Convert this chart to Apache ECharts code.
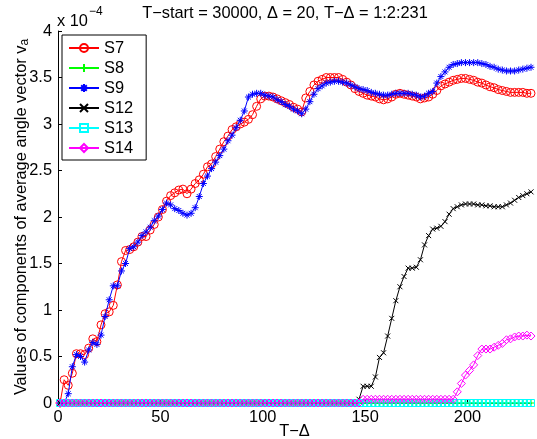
<!DOCTYPE html>
<html>
<head>
<meta charset="utf-8">
<script src="https://cdn.jsdelivr.net/npm/echarts@6/dist/echarts.min.js"></script>
<style>
html,body{margin:0;padding:0;background:#fff;}
#chart{width:537px;height:439px;}
</style>
</head>
<body>
<div id="chart"></div>
<script>
// T-Δ = 1:2:231
const tDelta = [
  1,3,5,7,9,11,13,15,17,19,
  21,23,25,27,29,31,33,35,37,39,
  41,43,45,47,49,51,53,55,57,59,
  61,63,65,67,69,71,73,75,77,79,
  81,83,85,87,89,91,93,95,97,99,
  101,103,105,107,109,111,113,115,117,119,
  121,123,125,127,129,131,133,135,137,139,
  141,143,145,147,149,151,153,155,157,159,
  161,163,165,167,169,171,173,175,177,179,
  181,183,185,187,189,191,193,195,197,199,
  201,203,205,207,209,211,213,215,217,219,
  221,223,225,227,229,231
];

// values in units of 1e-4
const s7 = [
  0,0.25,0.19,0.32,0.53,0.53,0.52,0.59,0.69,0.66,
  0.84,0.96,0.98,1.05,1.27,1.52,1.64,1.65,1.68,1.73,
  1.79,1.79,1.86,1.92,2.00,2.08,2.17,2.23,2.26,2.29,
  2.30,2.25,2.30,2.36,2.40,2.46,2.54,2.57,2.65,2.73,
  2.81,2.87,2.94,2.97,3.00,3.02,3.05,3.10,3.19,3.27,
  3.30,3.30,3.29,3.27,3.25,3.23,3.21,3.18,3.16,3.13,
  3.28,3.35,3.42,3.46,3.48,3.50,3.50,3.50,3.50,3.48,
  3.45,3.42,3.38,3.35,3.33,3.31,3.30,3.29,3.27,3.26,
  3.27,3.29,3.32,3.33,3.32,3.31,3.30,3.29,3.27,3.28,
  3.29,3.32,3.36,3.41,3.43,3.45,3.47,3.48,3.49,3.49,
  3.48,3.47,3.45,3.44,3.42,3.40,3.39,3.37,3.36,3.35,
  3.34,3.34,3.34,3.34,3.33,3.33
];
const s8 = [
  0,0,0,0,0,0,0,0,0,0,
  0,0,0,0,0,0,0,0,0,0,
  0,0,0,0,0,0,0,0,0,0,
  0,0,0,0,0,0,0,0,0,0,
  0,0,0,0,0,0,0,0,0,0,
  0,0,0,0,0,0,0,0,0,0,
  0,0,0,0,0,0,0,0,0,0,
  0,0,0,0,0,0,0,0,0,0,
  0,0,0,0,0,0,0,0,0,0,
  0,0,0,0,0,0,0,0,0,0,
  0,0,0,0,0,0,0,0,0,0,
  0,0,0,0,0,0
];
const s9 = [
  0,0,0.10,0.39,0.52,0.50,0.44,0.57,0.65,0.63,
  0.73,0.93,1.11,1.26,1.26,1.42,1.50,1.66,1.68,1.73,
  1.80,1.84,1.89,1.96,2.01,2.08,2.15,2.13,2.09,2.07,
  2.04,2.02,2.04,2.10,2.22,2.36,2.44,2.52,2.59,2.66,
  2.73,2.82,2.88,2.96,3.04,3.14,3.29,3.32,3.33,3.33,
  3.31,3.30,3.29,3.26,3.24,3.21,3.19,3.16,3.14,3.11,
  3.16,3.24,3.32,3.38,3.41,3.44,3.45,3.46,3.46,3.45,
  3.44,3.42,3.40,3.38,3.37,3.36,3.34,3.33,3.32,3.31,
  3.31,3.32,3.33,3.33,3.33,3.33,3.32,3.31,3.29,3.30,
  3.33,3.35,3.44,3.51,3.56,3.61,3.64,3.65,3.66,3.66,
  3.66,3.66,3.66,3.65,3.64,3.62,3.61,3.59,3.58,3.57,
  3.57,3.57,3.58,3.59,3.60,3.61
];
const s12 = [
  0,0,0,0,0,0,0,0,0,0,
  0,0,0,0,0,0,0,0,0,0,
  0,0,0,0,0,0,0,0,0,0,
  0,0,0,0,0,0,0,0,0,0,
  0,0,0,0,0,0,0,0,0,0,
  0,0,0,0,0,0,0,0,0,0,
  0,0,0,0,0,0,0,0,0,0,
  0,0,0,0.04,0.18,0.18,0.18,0.28,0.49,0.54,
  0.72,0.91,1.10,1.25,1.36,1.45,1.45,1.46,1.54,1.70,
  1.80,1.87,1.88,1.90,1.95,2.03,2.09,2.11,2.13,2.14,
  2.14,2.14,2.13,2.13,2.12,2.12,2.11,2.11,2.11,2.13,
  2.15,2.18,2.21,2.23,2.25,2.27
];
const s13 = [
  0,0,0,0,0,0,0,0,0,0,
  0,0,0,0,0,0,0,0,0,0,
  0,0,0,0,0,0,0,0,0,0,
  0,0,0,0,0,0,0,0,0,0,
  0,0,0,0,0,0,0,0,0,0,
  0,0,0,0,0,0,0,0,0,0,
  0,0,0,0,0,0,0,0,0,0,
  0,0,0,0,0,0,0,0,0,0,
  0,0,0,0,0,0,0,0,0,0,
  0,0,0,0,0,0,0,0,0,0,
  0,0,0,0,0,0,0,0,0,0,
  0,0,0,0,0,0
];
const s14 = [
  0,0,0,0,0,0,0,0,0,0,
  0,0,0,0,0,0,0,0,0,0,
  0,0,0,0,0,0,0,0,0,0,
  0,0,0,0,0,0,0,0,0,0,
  0,0,0,0,0,0,0,0,0,0,
  0,0,0,0,0,0,0,0,0,0,
  0,0,0,0,0,0,0,0,0,0,
  0,0,0,0,0.04,0.04,0.04,0.04,0.04,0.04,
  0.04,0.04,0.04,0.04,0.04,0.04,0.04,0.04,0.04,0.04,
  0.04,0.04,0.04,0.04,0.04,0.04,0.04,0.12,0.21,0.30,
  0.35,0.41,0.51,0.58,0.58,0.58,0.60,0.62,0.64,0.68,
  0.69,0.71,0.72,0.72,0.73,0.72
];

const seriesNames = ['S7','S8','S9','S12','S13','S14'];
const xTicks = [0,50,100,150,200];
const yTicks = [0,0.5,1,1.5,2,2.5,3,3.5,4];

const FONT = 'Liberation Sans, Arial, Helvetica, sans-serif';
const FS = 16.4;
const PLUS = 'path://M5,0L5,10M0,5L10,5';
const STAR = 'path://M5,0L5,10M0,5L10,5M1.5,1.5L8.5,8.5M1.5,8.5L8.5,1.5';
const XMARK = 'path://M0,0L10,10M0,10L10,0';

const styles = [
  {color:'#ff0000', symbol:'circle', size:8},
  {color:'#00ff00', symbol:PLUS, size:7},
  {color:'#0000ff', symbol:STAR, size:7},
  {color:'#000000', symbol:XMARK, size:5},
  {color:'#00ffff', symbol:'rect', size:7},
  {color:'#ff00ff', symbol:'diamond', size:8}
];
const values = [s7, s8, s9, s12, s13, s14];

function pairs(v){ return tDelta.map((t,i)=>[t, v[i]]); }

const series = seriesNames.map((name, k) => ({
  name: name,
  type: 'line',
  data: pairs(values[k]),
  symbol: styles[k].symbol,
  symbolSize: styles[k].size,
  showAllSymbol: true,
  showSymbol: true,
  animation: false,
  lineStyle: {color: styles[k].color, width: 1},
  itemStyle: {color: 'rgba(0,0,0,0)', borderColor: styles[k].color, borderWidth: 1},
  emphasis: {disabled: true},
  z: 2 + k
}));

const chart = echarts.init(document.getElementById('chart'), null, {renderer: 'canvas'});
chart.setOption({
  animation: false,
  backgroundColor: '#ffffff',
  textStyle: {fontFamily: FONT, color: '#000'},
  grid: {left: 58, right: 6, top: 31, bottom: 36, containLabel: false, outerBoundsMode: 'none'},
  xAxis: {
    type: 'value', min: 0, max: 231,
    name: 'T\u2212\u0394', nameLocation: 'middle', nameGap: 20, nameMoveOverlap: false,
    nameTextStyle: {fontSize: FS, color: '#000', fontFamily: FONT},
    axisLine: {show: true, lineStyle: {color: '#000', width: 1}},
    axisTick: {show: true, inside: true, length: 4, customValues: xTicks, lineStyle: {color: '#000'}},
    axisLabel: {customValues: xTicks, fontSize: FS, color: '#000', margin: 6, fontFamily: FONT},
    splitLine: {show: false}
  },
  yAxis: {
    type: 'value', min: 0, max: 4, interval: 0.5,
    name: 'Values of components of average angle vector v{sub|a}',
    nameLocation: 'middle', nameGap: 27, nameRotate: 90, nameMoveOverlap: false,
    nameTextStyle: {fontSize: FS, color: '#000', fontFamily: FONT,
      rich: {sub: {fontSize: 12, color: '#000', fontFamily: FONT, padding: [8,0,0,0]}}},
    axisLine: {show: true, lineStyle: {color: '#000', width: 1}},
    axisTick: {show: true, inside: true, length: 4, lineStyle: {color: '#000'}},
    axisLabel: {fontSize: FS, color: '#000', margin: 6, fontFamily: FONT,
      formatter: v => String(v)},
    splitLine: {show: false}
  },
  legend: {
    orient: 'vertical', left: 62, top: 35,
    data: seriesNames,
    itemWidth: 30, itemHeight: 10, itemGap: 4,
    padding: [5, 13, 4, 6],
    borderColor: '#000', borderWidth: 1, backgroundColor: '#fff',
    textStyle: {fontSize: FS, color: '#000', fontFamily: FONT, lineHeight: 15},
    selectedMode: false
  },
  graphic: [
    {type: 'text', x: 285, y: 13, style: {text: 'T\u2212start = 30000, \u0394 = 20, T\u2212\u0394 = 1:2:231', fontSize: FS, fontFamily: FONT, fill: '#000', textAlign: 'center', textVerticalAlign: 'middle'}},
    {type: 'text', x: 57, y: 21, style: {text: 'x 10', fontSize: FS, fontFamily: FONT, fill: '#000', textAlign: 'left', textVerticalAlign: 'middle'}},
    {type: 'text', x: 89, y: 12, style: {text: '\u22124', fontSize: 12, fontFamily: FONT, fill: '#000', textAlign: 'left', textVerticalAlign: 'middle'}}
  ],
  series: series
});
</script>
</body>
</html>
